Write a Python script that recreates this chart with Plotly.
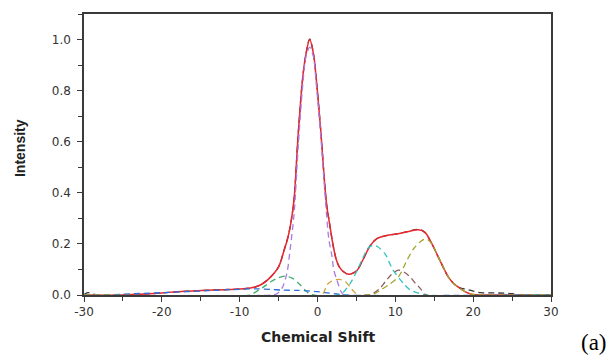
import plotly.graph_objects as go

# ---- data ----
fit_x = [-30, -25, -22, -20, -18, -16, -14, -12, -11, -10, -9, -8, -7, -6, -5, -4.3, -3.8, -3.4, -3.0, -2.5, -1.9, -1.5,
         -1.0, -0.5, -0.2, 0.4, 1.15, 1.6, 2.0, 2.4, 2.8, 3.3, 4.0, 4.6, 5.1, 5.9, 6.8, 7.6, 8.9, 10.2, 11.7, 13.0,
         13.8, 14.7, 15.5, 16.8, 17.5, 18.3, 19.0, 19.8, 21, 25, 30]
fit_y = [0, 0, 0.004, 0.008, 0.013, 0.016, 0.019, 0.021, 0.022, 0.023, 0.026, 0.031, 0.045, 0.071, 0.11, 0.174, 0.225,
         0.285, 0.38, 0.62, 0.85, 0.94, 1.0, 0.94, 0.86, 0.65, 0.36, 0.27, 0.195, 0.14, 0.11, 0.092, 0.081, 0.086,
         0.097, 0.142, 0.194, 0.22, 0.233, 0.239, 0.249, 0.255, 0.245, 0.2, 0.15, 0.071, 0.045, 0.026, 0.012, 0.003,
         0, 0, 0]

data_x = [-30, -29.5, -29, -28.3, -25, -22, -20, -18, -16, -14, -12, -11, -10, -9, -8, -7, -6, -5, -4.3, -3.8, -3.4,
          -3.0, -2.5, -1.9, -1.5, -1.0, -0.5, -0.2, 0.4, 1.15, 1.6, 2.0, 2.4, 2.8, 3.3, 4.0, 4.6, 5.1, 5.9, 6.8, 7.6,
          8.9, 10.2, 11.7, 13.0, 13.8, 14.7, 15.5, 16.8, 17.5, 18.3, 19.2, 20.0, 21.0, 22.0, 23.0, 24.0, 25.0, 26.0,
          30]
data_y = [0.002, 0.009, 0.006, 0, 0.001, 0.004, 0.008, 0.013, 0.016, 0.019, 0.021, 0.022, 0.023, 0.026, 0.031, 0.046,
          0.072, 0.11, 0.175, 0.226, 0.287, 0.38, 0.62, 0.85, 0.94, 1.002, 0.94, 0.86, 0.65, 0.36, 0.27, 0.195, 0.14,
          0.11, 0.092, 0.081, 0.086, 0.097, 0.142, 0.194, 0.22, 0.233, 0.239, 0.249, 0.257, 0.245, 0.2, 0.15, 0.071,
          0.045, 0.028, 0.022, 0.015, 0.009, 0.008, 0.008, 0.007, 0.005, 0.001, 0]

purple_x = [-30, -6, -5.2, -4.5, -3.9, -3.55, -3.0, -2.5, -1.9, -1.5, -1.0, -0.5, -0.2, 0.4, 1.1, 1.45, 1.87, 2.1, 2.5,
            3.0, 3.4, 30]
purple_y = [0, 0, 0.005, 0.03, 0.09, 0.17, 0.32, 0.57, 0.82, 0.93, 0.97, 0.93, 0.84, 0.63, 0.34, 0.22, 0.15, 0.097,
            0.058, 0.015, 0, 0]

green_x = [-30, -8.6, -8.2, -7, -6, -5, -4.1, -3.2, -2.4, -1.6, -0.9, 30]
green_y = [0, 0, 0.007, 0.03, 0.052, 0.068, 0.074, 0.065, 0.045, 0.02, 0.003, 0]

blue_x = [-30, -27, -25, -22.7, -20, -17, -14, -11, -8, -6, -4.5, -2.5, 0, 1, 2.5, 3.5, 30]
blue_y = [0, 0, 0.003, 0.006, 0.009, 0.013, 0.017, 0.021, 0.024, 0.022, 0.019, 0.018, 0.013, 0.009, 0.004, 0, 0]

orange_x = [-30, 0.5, 1.2, 1.7, 2.4, 3.0, 3.6, 4.2, 4.7, 5.3, 30]
orange_y = [0, 0, 0.039, 0.052, 0.06, 0.06, 0.052, 0.03, 0.013, 0, 0]

cyan_x = [-30, 2.8, 3.2, 4.2, 5.1, 5.9, 6.6, 7.2, 7.7, 8.7, 9.6, 10.5, 11.2, 11.9, 13, 14, 30]
cyan_y = [0, 0, 0.007, 0.045, 0.097, 0.15, 0.187, 0.194, 0.19, 0.16, 0.103, 0.065, 0.04, 0.02, 0.007, 0, 0]

maroon_x = [-30, 6.5, 7.2, 8, 8.7, 9.5, 10.4, 11.2, 11.9, 12.6, 13.2, 14, 30]
maroon_y = [0, 0, 0.007, 0.025, 0.052, 0.08, 0.097, 0.088, 0.071, 0.045, 0.026, 0, 0]

olive_x = [-30, 6.5, 7.5, 8.1, 9.1, 10.4, 11.5, 12.35, 13.4, 14.0, 14.7, 15.5, 16.8, 17.5, 18.3, 19.0, 19.8, 21, 30]
olive_y = [0, 0, 0.008, 0.019, 0.039, 0.071, 0.136, 0.181, 0.213, 0.22, 0.2, 0.15, 0.071, 0.045, 0.026, 0.012, 0.003,
           0, 0]

x_ticks = [-30, -20, -10, 0, 10, 20, 30]
y_ticks = [0.0, 0.2, 0.4, 0.6, 0.8, 1.0]

components = [
    (purple_x, purple_y, "#a97be6"),
    (green_x, green_y, "#3fae6a"),
    (blue_x, blue_y, "#2f6fd6"),
    (orange_x, orange_y, "#d3a33a"),
    (cyan_x, cyan_y, "#2fc4c4"),
    (maroon_x, maroon_y, "#8e5e63"),
    (olive_x, olive_y, "#a3a330"),
]

fig = go.Figure()
fig.add_trace(go.Scatter(x=data_x, y=data_y, mode="lines", line=dict(color="#333333", width=1.3, dash="6px,4px",
                                                                        shape="spline", smoothing=1.0)))
fig.add_trace(go.Scatter(x=fit_x, y=fit_y, mode="lines", line=dict(color="#e8272f", width=1.5,
                                                                      shape="spline", smoothing=1.0)))
for cx, cy, col in components:
    fig.add_trace(go.Scatter(x=cx, y=cy, mode="lines",
                             line=dict(color=col, width=1.3, dash="6px,4px", shape="spline", smoothing=0.8)))

axis_common = dict(showgrid=False, zeroline=False, showline=True, mirror=True, linecolor="#3a3a3a", linewidth=1.5,
                   ticks="outside", ticklen=5, tickwidth=1.2, tickcolor="#3a3a3a",
                   tickfont=dict(family="DejaVu Sans", size=12, color="#333333"), layer="below traces")

fig.update_xaxes(range=[-30, 30], tickvals=x_ticks, ticktext=[str(v) for v in x_ticks],
                 minor=dict(dtick=5, tick0=-30, ticks="outside", ticklen=4, tickcolor="#3a3a3a"), **axis_common)
fig.update_yaxes(range=[0, 1.1], tickvals=y_ticks, ticktext=["%.1f" % v for v in y_ticks],
                 minor=dict(dtick=0.1, tick0=0, ticks="outside", ticklen=4, tickcolor="#3a3a3a"),
                 ticklabelstandoff=4, **axis_common)

fig.update_layout(
    width=611, height=356, autosize=False,
    margin=dict(l=84, r=60, t=12, b=61),
    paper_bgcolor="white", plot_bgcolor="white", showlegend=False,
    annotations=[
        dict(text="<b>Intensity</b>", xref="paper", yref="paper", x=-0.137, y=0.523, showarrow=False,
             textangle=-90, font=dict(family="Liberation Sans", size=14, color="#222222"),
             xanchor="center", yanchor="middle"),
        dict(text="<b>Chemical Shift</b>", xref="paper", yref="paper", x=0.501, y=-0.148, showarrow=False,
             font=dict(family="DejaVu Sans", size=14, color="#222222"), xanchor="center", yanchor="middle"),
        dict(text="(a)", xref="paper", yref="paper", x=1.124, y=-0.17, showarrow=False,
             font=dict(family="Liberation Serif", size=23, color="black"), xanchor="right", yanchor="middle"),
    ],
)

fig.write_html("out.html")
